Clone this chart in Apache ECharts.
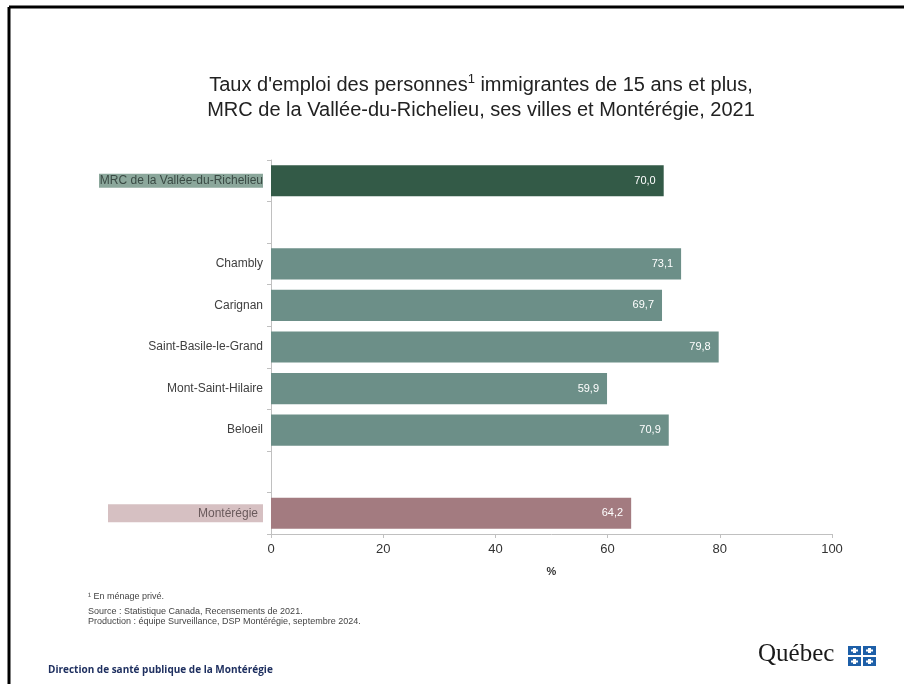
<!DOCTYPE html>
<html><head><meta charset="utf-8">
<script src="https://cdn.jsdelivr.net/npm/echarts@6/dist/echarts.min.js"></script>
<style>html,body{margin:0;padding:0;background:#fff}#c{width:904px;height:684px}</style>
</head><body><div id="c"></div>
<script>
const categories = ['MRC de la Vallée-du-Richelieu', '', 'Chambly', 'Carignan', 'Saint-Basile-le-Grand', 'Mont-Saint-Hilaire', 'Beloeil', ' ', 'Montérégie'];
const values = [70.0, null, 73.1, 69.7, 79.8, 59.9, 70.9, null, 64.2];
const groups = ['mrc', null, 'ville', 'ville', 'ville', 'ville', 'ville', null, 'region'];
const xTicks = [0, 20, 40, 60, 80, 100];
const titleLine1 = "Taux d'emploi des personnes";
const titleSup = "1";
const titleLine1b = " immigrantes de 15 ans et plus,";
const titleLine2 = "MRC de la Vallée-du-Richelieu, ses villes et Montérégie, 2021";
const notes = ["¹ En ménage privé.", "Source : Statistique Canada, Recensements de 2021.", "Production : équipe Surveillance, DSP Montérégie, septembre 2024."];
const footer = "Direction de santé publique de la Montérégie";

const barColors = {mrc: '#335a47', ville: '#6c8f88', region: '#a37b80'};
const chart = echarts.init(document.getElementById('c'));
const fmt = v => v.toFixed(1).replace('.', ',');
const F = 'Liberation Sans, Arial, sans-serif';

chart.setOption({
  animation: false,
  backgroundColor: '#fff',
  title: {
    text: '{t|' + titleLine1 + '}{s|' + titleSup + '}{t|' + titleLine1b + '}\n{t|' + titleLine2 + '}',
    left: 476, top: 68, textAlign: 'center',
    textStyle: {
      fontWeight: 'normal',
      rich: {
        t: {fontFamily: F, fontSize: 20, fontWeight: 'normal', color: '#222', lineHeight: 25},
        s: {fontFamily: F, fontSize: 13, fontWeight: 'normal', color: '#222', lineHeight: 25, verticalAlign: 'top', padding: [0, 0, 9, 0]}
      }
    }
  },
  grid: {left: 271, right: 72, top: 160, bottom: 150},
  xAxis: {
    type: 'value', min: 0, max: 100, interval: 20,
    name: '%', nameLocation: 'middle', nameGap: 32,
    nameTextStyle: {fontFamily: F, fontSize: 11, color: '#333', fontWeight: 'bold'},
    axisLine: {show: true, lineStyle: {color: '#c0c0c0'}},
    axisTick: {show: true, length: 4, lineStyle: {color: '#c0c0c0'}},
    axisLabel: {fontFamily: F, fontSize: 13, color: '#333', margin: 9,
      formatter: v => xTicks.includes(v) ? String(v) : ''},
    splitLine: {show: false}
  },
  yAxis: {
    type: 'category', data: categories, inverse: true,
    axisLine: {show: true, lineStyle: {color: '#c0c0c0'}},
    axisTick: {show: true, length: 4, lineStyle: {color: '#c0c0c0'}},
    axisLabel: {
      margin: 8, fontFamily: F, fontSize: 12, color: '#404040',
      formatter: (v, i) => {
        if (groups[i] === 'mrc') return '{m|' + v + '}';
        if (groups[i] === 'region') return '{r|' + v + '}';
        return v;
      },
      rich: {
        m: {fontFamily: F, fontSize: 12, color: '#3a4a44', backgroundColor: '#8ba79b', width: 164, align: 'right', padding: [1, 0, 1, 0], height: 12},
        r: {fontFamily: F, fontSize: 12, color: '#6a5a5c', backgroundColor: '#d6c0c2', width: 148, align: 'right', padding: [3, 5, 3, 2], height: 12}
      }
    }
  },
  series: [{
    type: 'bar', barCategoryGap: '25%',
    data: values.map((v, i) => v == null ? null : {value: v, itemStyle: {color: barColors[groups[i]]}}),
    label: {show: true, position: 'insideRight', distance: 8, color: '#fff', fontFamily: F, fontSize: 11,
      formatter: p => fmt(p.value)}
  }],
  graphic: [
    {type: 'line', shape: {x1: 9, y1: 7, x2: 904, y2: 7}, style: {stroke: '#000', lineWidth: 3}},
    {type: 'line', shape: {x1: 9, y1: 7, x2: 9, y2: 684}, style: {stroke: '#000', lineWidth: 3}},
    {type: 'text', left: 88, top: 592, style: {text: notes[0], fontFamily: F, fontSize: 9, fill: '#444'}},
    {type: 'text', left: 88, top: 607, style: {text: notes[1], fontFamily: F, fontSize: 9, fill: '#444'}},
    {type: 'text', left: 88, top: 617, style: {text: notes[2], fontFamily: F, fontSize: 9, fill: '#444'}},
    {type: 'text', left: 48, top: 665, style: {text: footer, fontFamily: 'Open Sans, Liberation Sans, sans-serif', fontSize: 10, fontWeight: 'bold', fill: '#1f3060'}},
    {type: 'text', left: 758, top: 642, style: {text: 'Québec', fontFamily: 'Liberation Serif, serif', fontSize: 25, fill: '#1a1a1a'}},
    {type: 'group', left: 848, top: 646, children: [
      {type: 'rect', shape: {x: 0, y: 0, width: 13, height: 9}, style: {fill: '#1d5fa8'}},
      {type: 'rect', shape: {x: 15, y: 0, width: 13, height: 9}, style: {fill: '#1d5fa8'}},
      {type: 'rect', shape: {x: 0, y: 11, width: 13, height: 9}, style: {fill: '#1d5fa8'}},
      {type: 'rect', shape: {x: 15, y: 11, width: 13, height: 9}, style: {fill: '#1d5fa8'}},
      {type: 'rect', shape: {x: 5, y: 2, width: 3, height: 5}, style: {fill: '#fff'}},
      {type: 'rect', shape: {x: 3, y: 3.5, width: 7, height: 2}, style: {fill: '#fff'}},
      {type: 'rect', shape: {x: 20, y: 2, width: 3, height: 5}, style: {fill: '#fff'}},
      {type: 'rect', shape: {x: 18, y: 3.5, width: 7, height: 2}, style: {fill: '#fff'}},
      {type: 'rect', shape: {x: 5, y: 13, width: 3, height: 5}, style: {fill: '#fff'}},
      {type: 'rect', shape: {x: 3, y: 14.5, width: 7, height: 2}, style: {fill: '#fff'}},
      {type: 'rect', shape: {x: 20, y: 13, width: 3, height: 5}, style: {fill: '#fff'}},
      {type: 'rect', shape: {x: 18, y: 14.5, width: 7, height: 2}, style: {fill: '#fff'}}
    ]}
  ]
});
</script></body></html>
